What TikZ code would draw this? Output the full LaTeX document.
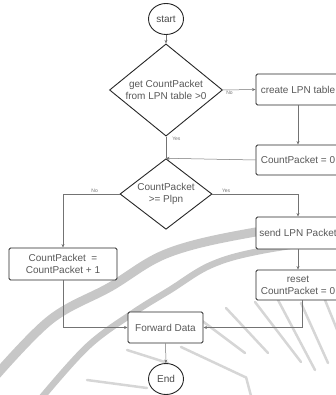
\documentclass[tikz,border=0pt]{standalone}
\usepackage{fontspec}
\setmainfont{Liberation Sans}
\usetikzlibrary{shapes.geometric,arrows.meta}

\tikzset{
  box/.style={draw=black!85, line width=0.9pt, rounded corners=1.5pt,
    fill=white, text=black!65, align=center, inner sep=2pt},
  decision/.style={diamond, draw=black!85, line width=0.9pt, fill=white,
    text=black!65, align=center, inner sep=-2pt},
  terminal/.style={ellipse, draw=black!85, line width=0.9pt, fill=white,
    text=black!70, inner sep=0pt, minimum width=35pt, minimum height=31pt},
  line/.style={draw=black!55, line width=0.5pt},
  arrow/.style={line, -{Stealth[length=3.5pt,width=3pt]}},
  lbl/.style={text=black!55, font=\fontsize{5}{6}\selectfont, inner sep=1pt},
  wmark/.style={draw=black!22, line cap=round}
}

\begin{document}
\begin{tikzpicture}[x=1pt, y=-1pt, font=\fontsize{10}{12}\selectfont]
  \useasboundingbox (0,0) rectangle (336,395);
  % watermark behind the chart
  \begin{scope}
    \clip (0,0) rectangle (336,395);
    \draw[wmark, line width=9pt] plot[smooth, tension=0.6] coordinates
      {(-8,380) (50,320) (110,287) (168,253) (250,233) (345,221)};
    \draw[wmark, line width=6.5pt] plot[smooth, tension=0.6] coordinates
      {(38,402) (87,347) (133,313) (170,290) (211,265) (260,251) (345,238)};
    \foreach \xa/\ya/\xb/\yb in {226/308/268/353, 255/302/301/362,
        278/300/315/370, 301/303/328/363, 325/300/338/332, 201/320/245/353,
        181/347/245/377, 127/350/168/363, 87/380/147/388, 246/377/251/396}
      \draw[wmark, draw=black!16, line width=2.5pt] (\xa,\ya) -- (\xb,\yb);
  \end{scope}

  \node[terminal] (start) at (166,19) {start};
  \node[decision, minimum width=113pt, minimum height=74pt] (getcnt) at (166,90)
    {get CountPacket\\from LPN table >0};
  \node[box, minimum width=84pt, minimum height=31pt] (create) at (298,89.5)
    {create LPN table};
  \node[box, minimum width=84pt, minimum height=30pt] (zero) at (298,160)
    {CountPacket = 0};
  \node[decision, minimum width=92pt, minimum height=68pt] (cmp) at (166,194)
    {CountPacket\\>= Plpn};
  \node[box, minimum width=108pt, minimum height=32pt] (incr) at (63,264)
    {CountPacket \ =\\CountPacket + 1};
  \node[box, minimum width=84pt, minimum height=32pt] (send) at (298,233)
    {send LPN Packet};
  \node[box, minimum width=84pt, minimum height=30pt] (reset) at (298,285)
    {reset\\CountPacket = 0};
  \node[box, minimum width=75pt, minimum height=31pt] (fwd) at (165.5,327.5)
    {Forward Data};
  \node[terminal] (finish) at (166,379) {End};

  \draw[arrow] (start) -- (getcnt);
  \draw[arrow] (getcnt.east) -- node[lbl, below, pos=0.2] {No} (create.west);
  \draw[arrow] (create) -- (zero);
  \draw[line] (getcnt.south) -- node[lbl, right, pos=0.12, xshift=5pt] {Yes} (cmp.north);
  \draw[arrow] (zero.west) -- (cmp.north);
  \draw[arrow] (cmp.west) -| node[lbl, above, pos=0.22] {No} (incr.north);
  \draw[arrow] (cmp.east) -| node[lbl, above, pos=0.08] {Yes} (send.north);
  \draw[arrow] (send) -- (reset);
  \draw[arrow] ([xshift=4pt]reset.south) |- (fwd.east);
  \draw[arrow] (incr.south) |- (fwd.west);
  \draw[arrow] (fwd) -- (finish);
\end{tikzpicture}
\end{document}
